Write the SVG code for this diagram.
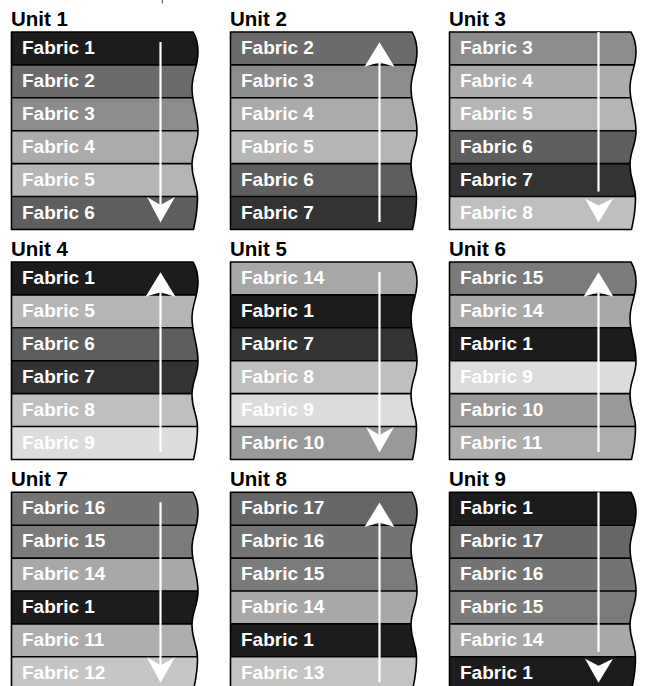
<svg xmlns="http://www.w3.org/2000/svg" width="646" height="686" viewBox="0 0 646 686">
<style>
.u{font-family:"Liberation Sans",Arial,Helvetica,sans-serif;font-weight:bold;font-size:20.5px;fill:#000}
.f{font-family:"Liberation Sans",Arial,Helvetica,sans-serif;font-weight:bold;font-size:19px;fill:#fff}
.sep{stroke:#000;stroke-width:1.6}
.edge{fill:none;stroke:#000;stroke-width:1.6;stroke-linejoin:round}
.shaft{stroke:#fff;stroke-width:2.2}
.head{fill:#fff}
.c1{fill:#1c1c1c}.c2{fill:#6b6b6b}.c3{fill:#8c8c8c}.c4{fill:#ababab}.c5{fill:#b5b5b5}.c6{fill:#5e5e5e}
.c7{fill:#333}.c8{fill:#bfbfbf}.c9{fill:#dcdcdc}.c10{fill:#999}.c11{fill:#adadad}.c12{fill:#c6c6c6}
.c13{fill:#c4c4c4}.c14{fill:#a8a8a8}.c15{fill:#7b7b7b}.c16{fill:#747474}.c17{fill:#666}
</style>
<defs>
<path id="outline" d="M0,0 H181.5 C184.5,5 186.5,13 186.5,20 C186.5,35 180.5,42 180.5,56 C180.5,72 186.5,82 186.5,99 C186.5,114 180.5,118 180.5,133 C180.5,148 186,152 186,166 C186,180 183.5,191 182,197.5 H0 Z"/>
<clipPath id="clip"><use href="#outline"/></clipPath>
<g id="seps">
<line class="sep" x1="0" y1="32.9" x2="190" y2="32.9"/>
<line class="sep" x1="0" y1="65.8" x2="190" y2="65.8"/>
<line class="sep" x1="0" y1="98.7" x2="190" y2="98.7"/>
<line class="sep" x1="0" y1="131.6" x2="190" y2="131.6"/>
<line class="sep" x1="0" y1="164.5" x2="190" y2="164.5"/>
</g>
<g id="down">
<line class="shaft" x1="149" y1="10" x2="149" y2="180"/>
<polygon class="head" points="149,190.5 135.5,165 149,173 163.5,165"/>
</g>
<g id="downsplit">
<line class="shaft" x1="149" y1="0" x2="149" y2="159.5"/>
<polygon class="head" points="149,190.5 135.5,166.5 149,173.5 163.5,166.5"/>
</g>
<g id="up">
<line class="shaft" x1="149" y1="25" x2="149" y2="190"/>
<polygon class="head" points="149,10.3 134,34.7 149,30.3 164,34.7"/>
</g>
</defs>

<line x1="162.3" y1="0" x2="162.3" y2="3.5" stroke="#444" stroke-width="1"/>

<g id="unit1" transform="translate(11.5,32)">
<text class="u" x="-0.5" y="-6">Unit 1</text>
<g clip-path="url(#clip)">
<rect class="c1" x="0" y="0" width="190" height="32.9"/>
<rect class="c2" x="0" y="32.9" width="190" height="32.9"/>
<rect class="c3" x="0" y="65.8" width="190" height="32.9"/>
<rect class="c4" x="0" y="98.7" width="190" height="32.9"/>
<rect class="c5" x="0" y="131.6" width="190" height="32.9"/>
<rect class="c6" x="0" y="164.5" width="190" height="33"/>
<use href="#seps"/>
</g>
<use href="#outline" class="edge"/>
<text class="f" x="10.5" y="22">Fabric 1</text>
<text class="f" x="10.5" y="54.9">Fabric 2</text>
<text class="f" x="10.5" y="87.8">Fabric 3</text>
<text class="f" x="10.5" y="120.7">Fabric 4</text>
<text class="f" x="10.5" y="153.6">Fabric 5</text>
<text class="f" x="10.5" y="186.5">Fabric 6</text>
</g>

<g id="unit2" transform="translate(230.5,32)">
<text class="u" x="-0.5" y="-6">Unit 2</text>
<g clip-path="url(#clip)">
<rect class="c2" x="0" y="0" width="190" height="32.9"/>
<rect class="c3" x="0" y="32.9" width="190" height="32.9"/>
<rect class="c4" x="0" y="65.8" width="190" height="32.9"/>
<rect class="c5" x="0" y="98.7" width="190" height="32.9"/>
<rect class="c6" x="0" y="131.6" width="190" height="32.9"/>
<rect class="c7" x="0" y="164.5" width="190" height="33"/>
<use href="#seps"/>
</g>
<use href="#outline" class="edge"/>
<text class="f" x="10.5" y="22">Fabric 2</text>
<text class="f" x="10.5" y="54.9">Fabric 3</text>
<text class="f" x="10.5" y="87.8">Fabric 4</text>
<text class="f" x="10.5" y="120.7">Fabric 5</text>
<text class="f" x="10.5" y="153.6">Fabric 6</text>
<text class="f" x="10.5" y="186.5">Fabric 7</text>
</g>

<g id="unit3" transform="translate(449.5,32)">
<text class="u" x="-0.5" y="-6">Unit 3</text>
<g clip-path="url(#clip)">
<rect class="c3" x="0" y="0" width="190" height="32.9"/>
<rect class="c4" x="0" y="32.9" width="190" height="32.9"/>
<rect class="c5" x="0" y="65.8" width="190" height="32.9"/>
<rect class="c6" x="0" y="98.7" width="190" height="32.9"/>
<rect class="c7" x="0" y="131.6" width="190" height="32.9"/>
<rect class="c8" x="0" y="164.5" width="190" height="33"/>
<use href="#seps"/>
</g>
<use href="#outline" class="edge"/>
<text class="f" x="10.5" y="22">Fabric 3</text>
<text class="f" x="10.5" y="54.9">Fabric 4</text>
<text class="f" x="10.5" y="87.8">Fabric 5</text>
<text class="f" x="10.5" y="120.7">Fabric 6</text>
<text class="f" x="10.5" y="153.6">Fabric 7</text>
<text class="f" x="10.5" y="186.5">Fabric 8</text>
</g>

<g id="unit4" transform="translate(11.5,262)">
<text class="u" x="-0.5" y="-6">Unit 4</text>
<g clip-path="url(#clip)">
<rect class="c1" x="0" y="0" width="190" height="32.9"/>
<rect class="c5" x="0" y="32.9" width="190" height="32.9"/>
<rect class="c6" x="0" y="65.8" width="190" height="32.9"/>
<rect class="c7" x="0" y="98.7" width="190" height="32.9"/>
<rect class="c8" x="0" y="131.6" width="190" height="32.9"/>
<rect class="c9" x="0" y="164.5" width="190" height="33"/>
<use href="#seps"/>
</g>
<use href="#outline" class="edge"/>
<text class="f" x="10.5" y="22">Fabric 1</text>
<text class="f" x="10.5" y="54.9">Fabric 5</text>
<text class="f" x="10.5" y="87.8">Fabric 6</text>
<text class="f" x="10.5" y="120.7">Fabric 7</text>
<text class="f" x="10.5" y="153.6">Fabric 8</text>
<text class="f" x="10.5" y="186.5">Fabric 9</text>
</g>

<g id="unit5" transform="translate(230.5,262)">
<text class="u" x="-0.5" y="-6">Unit 5</text>
<g clip-path="url(#clip)">
<rect class="c14" x="0" y="0" width="190" height="32.9"/>
<rect class="c1" x="0" y="32.9" width="190" height="32.9"/>
<rect class="c7" x="0" y="65.8" width="190" height="32.9"/>
<rect class="c8" x="0" y="98.7" width="190" height="32.9"/>
<rect class="c9" x="0" y="131.6" width="190" height="32.9"/>
<rect class="c10" x="0" y="164.5" width="190" height="33"/>
<use href="#seps"/>
</g>
<use href="#outline" class="edge"/>
<text class="f" x="10.5" y="22">Fabric 14</text>
<text class="f" x="10.5" y="54.9">Fabric 1</text>
<text class="f" x="10.5" y="87.8">Fabric 7</text>
<text class="f" x="10.5" y="120.7">Fabric 8</text>
<text class="f" x="10.5" y="153.6">Fabric 9</text>
<text class="f" x="10.5" y="186.5">Fabric 10</text>
</g>

<g id="unit6" transform="translate(449.5,262)">
<text class="u" x="-0.5" y="-6">Unit 6</text>
<g clip-path="url(#clip)">
<rect class="c15" x="0" y="0" width="190" height="32.9"/>
<rect class="c14" x="0" y="32.9" width="190" height="32.9"/>
<rect class="c1" x="0" y="65.8" width="190" height="32.9"/>
<rect class="c9" x="0" y="98.7" width="190" height="32.9"/>
<rect class="c10" x="0" y="131.6" width="190" height="32.9"/>
<rect class="c11" x="0" y="164.5" width="190" height="33"/>
<use href="#seps"/>
</g>
<use href="#outline" class="edge"/>
<text class="f" x="10.5" y="22">Fabric 15</text>
<text class="f" x="10.5" y="54.9">Fabric 14</text>
<text class="f" x="10.5" y="87.8">Fabric 1</text>
<text class="f" x="10.5" y="120.7">Fabric 9</text>
<text class="f" x="10.5" y="153.6">Fabric 10</text>
<text class="f" x="10.5" y="186.5">Fabric 11</text>
</g>

<g id="unit7" transform="translate(11.5,492.3)">
<text class="u" x="-0.5" y="-6">Unit 7</text>
<g clip-path="url(#clip)">
<rect class="c16" x="0" y="0" width="190" height="32.9"/>
<rect class="c15" x="0" y="32.9" width="190" height="32.9"/>
<rect class="c14" x="0" y="65.8" width="190" height="32.9"/>
<rect class="c1" x="0" y="98.7" width="190" height="32.9"/>
<rect class="c11" x="0" y="131.6" width="190" height="32.9"/>
<rect class="c12" x="0" y="164.5" width="190" height="33"/>
<use href="#seps"/>
</g>
<use href="#outline" class="edge"/>
<text class="f" x="10.5" y="22">Fabric 16</text>
<text class="f" x="10.5" y="54.9">Fabric 15</text>
<text class="f" x="10.5" y="87.8">Fabric 14</text>
<text class="f" x="10.5" y="120.7">Fabric 1</text>
<text class="f" x="10.5" y="153.6">Fabric 11</text>
<text class="f" x="10.5" y="186.5">Fabric 12</text>
</g>

<g id="unit8" transform="translate(230.5,492.3)">
<text class="u" x="-0.5" y="-6">Unit 8</text>
<g clip-path="url(#clip)">
<rect class="c17" x="0" y="0" width="190" height="32.9"/>
<rect class="c16" x="0" y="32.9" width="190" height="32.9"/>
<rect class="c15" x="0" y="65.8" width="190" height="32.9"/>
<rect class="c14" x="0" y="98.7" width="190" height="32.9"/>
<rect class="c1" x="0" y="131.6" width="190" height="32.9"/>
<rect class="c13" x="0" y="164.5" width="190" height="33"/>
<use href="#seps"/>
</g>
<use href="#outline" class="edge"/>
<text class="f" x="10.5" y="22">Fabric 17</text>
<text class="f" x="10.5" y="54.9">Fabric 16</text>
<text class="f" x="10.5" y="87.8">Fabric 15</text>
<text class="f" x="10.5" y="120.7">Fabric 14</text>
<text class="f" x="10.5" y="153.6">Fabric 1</text>
<text class="f" x="10.5" y="186.5">Fabric 13</text>
</g>

<g id="unit9" transform="translate(449.5,492.3)">
<text class="u" x="-0.5" y="-6">Unit 9</text>
<g clip-path="url(#clip)">
<rect class="c1" x="0" y="0" width="190" height="32.9"/>
<rect class="c17" x="0" y="32.9" width="190" height="32.9"/>
<rect class="c16" x="0" y="65.8" width="190" height="32.9"/>
<rect class="c15" x="0" y="98.7" width="190" height="32.9"/>
<rect class="c14" x="0" y="131.6" width="190" height="32.9"/>
<rect class="c1" x="0" y="164.5" width="190" height="33"/>
<use href="#seps"/>
</g>
<use href="#outline" class="edge"/>
<text class="f" x="10.5" y="22">Fabric 1</text>
<text class="f" x="10.5" y="54.9">Fabric 17</text>
<text class="f" x="10.5" y="87.8">Fabric 16</text>
<text class="f" x="10.5" y="120.7">Fabric 15</text>
<text class="f" x="10.5" y="153.6">Fabric 14</text>
<text class="f" x="10.5" y="186.5">Fabric 1</text>
</g>

<g id="arrows">
<use href="#down" transform="translate(11.5,32)"/>
<use href="#up" transform="translate(230.5,32)"/>
<use href="#downsplit" transform="translate(449.5,32)"/>
<use href="#up" transform="translate(11.5,262)"/>
<use href="#down" transform="translate(230.5,262)"/>
<use href="#up" transform="translate(449.5,262)"/>
<use href="#down" transform="translate(11.5,492.3)"/>
<use href="#up" transform="translate(230.5,492.3)"/>
<use href="#downsplit" transform="translate(449.5,492.3)"/>
</g>
</svg>
